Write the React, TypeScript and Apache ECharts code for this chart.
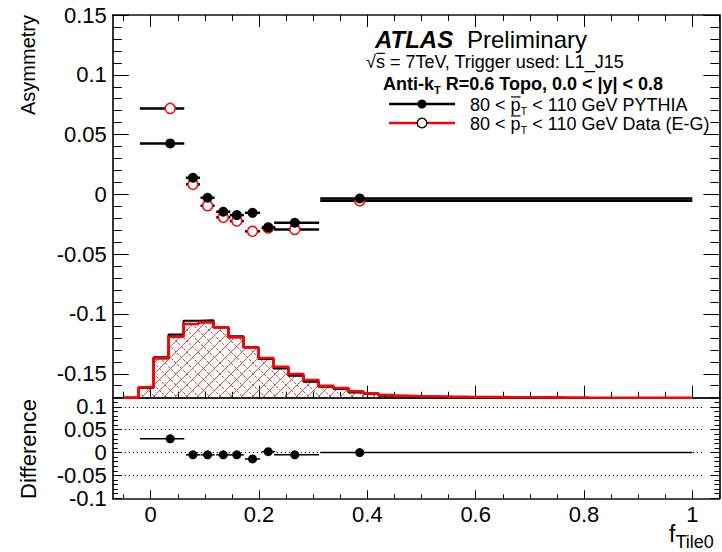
import React, { useEffect, useRef } from "react";
import * as echarts from "echarts";

const FONT = "'Liberation Sans', Arial, Helvetica, sans-serif";

// ---------- data ----------
const pointX = [0.036, 0.078, 0.105, 0.134, 0.159, 0.188, 0.217, 0.266, 0.386];
const binLow = [-0.02, 0.065, 0.092, 0.121, 0.146, 0.174, 0.205, 0.228, 0.313];
const binHigh = [0.062, 0.091, 0.118, 0.147, 0.172, 0.202, 0.23, 0.311, 1.0];
const pythiaY = [0.0426, 0.0139, -0.0028, -0.0145, -0.0173, -0.0154, -0.0276, -0.0237, -0.0034];
const pythiaErrY = [0.0025, 0.0025, 0.002, 0.002, 0.002, 0.002, 0.002, 0.002, 0.002];
const dataY = [0.0719, 0.0084, -0.0095, -0.0192, -0.0223, -0.0309, -0.0282, -0.0293, -0.0054];
const diffY = [0.03, -0.005, -0.005, -0.005, -0.005, -0.014, 0.002, -0.005, 0.0];

const histStart = -0.0225;
const histWidth = 0.0277;
const histDataVals = [0.0172, 0.0655, 0.1017, 0.1228, 0.1255, 0.1172, 0.1005, 0.0838, 0.0663, 0.0517, 0.0395, 0.0295, 0.02, 0.0162, 0.0105, 0.0072, 0.0045, 0.0033, 0.0025, 0.002, 0.0017, 0.0013, 0.0012, 0.001, 0.0008, 0.0007, 0.0006, 0.0005, 0.0004, 0.0003];
const histPythiaVals = [0.0162, 0.0672, 0.105, 0.1283, 0.1288, 0.1172, 0.1022, 0.0838, 0.0645, 0.0488, 0.0367, 0.0267, 0.0183, 0.0145, 0.0088, 0.0062, 0.0033, 0.0025, 0.002, 0.0017, 0.0013, 0.001, 0.0008, 0.0007];

const xTicks = [0, 0.2, 0.4, 0.6, 0.8, 1.0];
const xTickLabels = ["0", "0.2", "0.4", "0.6", "0.8", "1"];
const topYTicks = [-0.15, -0.1, -0.05, 0, 0.05, 0.1, 0.15];
const topYTickLabels = ["-0.15", "-0.1", "-0.05", "0", "0.05", "0.1", "0.15"];
const botYTicks = [-0.1, -0.05, 0, 0.05, 0.1];
const botYTickLabels = ["-0.1", "-0.05", "0", "0.05", "0.1"];
const refLines = [0.1, 0.05, 0, -0.05];

// ---------- layout ----------
const X_MIN = -0.07, X_MAX = 1.05;
const TOP_MIN = -0.17, TOP_MAX = 0.15;
const BOT_MIN = -0.1, BOT_MAX = 0.12;
const HIST_MAX = 0.638;
const GL = 112.8, GW = 606.6;
const G0T = 15, G0H = 382.7;
const G1T = 397.7, G1H = 100.6;
const HATCH = 11;

function range(a: number, b: number, s: number) {
  const out: number[] = [];
  for (let v = a; v <= b + 1e-9; v += s) out.push(Math.round(v * 1e4) / 1e4);
  return out;
}
const xMinor = range(-0.05, 1.05, 0.05);
const topYMinor = range(-0.17, 0.15, 0.01);
const botYMinor = range(-0.1, 0.12, 0.01);

function labelFor(ticks: number[], labels: string[]) {
  return (v: number) => {
    const i = ticks.findIndex((t) => Math.abs(t - v) < 1e-9);
    return i >= 0 ? labels[i] : "";
  };
}

function axis(gridIndex: number, position: string, min: number, max: number, values: number[], len: number, showLine: boolean, labels?: { ticks: number[]; texts: string[]; margin: number }) {
  return {
    type: "value",
    gridIndex,
    position,
    min,
    max,
    axisLine: { show: showLine, onZero: false, lineStyle: { color: "#111", width: 1.7 } },
    axisTick: { show: len > 0, inside: true, length: len, customValues: values, lineStyle: { color: "#000", width: 1 } },
    axisLabel: labels
      ? { show: true, customValues: labels.ticks, formatter: labelFor(labels.ticks, labels.texts), margin: labels.margin, fontSize: 22, color: "#000", fontFamily: FONT }
      : { show: false },
    splitLine: { show: false },
    minorTick: { show: false },
  };
}

function histLine(vals: number[], endX: number) {
  const pts: number[][] = [[-0.05, 0]];
  vals.forEach((v, i) => pts.push([histStart + i * histWidth, v]));
  pts.push([histStart + vals.length * histWidth, 0]);
  pts.push([endX, 0]);
  return pts;
}

// hatching of each histogram bin, clipped to the bin's rectangle in pixel space
function hatchSeries(vals: number[], dir: number, color: string, lw: number, dash: number[] | null, z: number) {
  return {
    type: "custom",
    xAxisIndex: 0,
    yAxisIndex: 4,
    z,
    silent: true,
    encode: { x: [0, 1], y: 2 },
    data: vals.map((v, i) => [histStart + i * histWidth, histStart + (i + 1) * histWidth, v]),
    renderItem: (_p: any, api: any) => {
      const p0 = api.coord([api.value(0), 0]);
      const p1 = api.coord([api.value(1), api.value(2)]);
      const L = p0[0], R = p1[0], B = p0[1], T = p1[1];
      const children: any[] = [];
      const style: any = { stroke: color, lineWidth: lw, fill: null };
      if (dash) style.lineDash = dash;
      if (dir > 0) {
        // lines x + y = c
        for (let k = Math.ceil((L + T) / HATCH); k * HATCH <= R + B; k++) {
          const c = k * HATCH;
          const xa = Math.max(L, c - B), xb = Math.min(R, c - T);
          if (xb > xa) children.push({ type: "line", shape: { x1: xa, y1: c - xa, x2: xb, y2: c - xb }, style });
        }
      } else {
        // lines x - y = c
        for (let k = Math.ceil((L - B) / HATCH); k * HATCH <= R - T; k++) {
          const c = k * HATCH;
          const xa = Math.max(L, c + T), xb = Math.min(R, c + B);
          if (xb > xa) children.push({ type: "line", shape: { x1: xa, y1: xa - c, x2: xb, y2: xb - c }, style });
        }
      }
      return { type: "group", children };
    },
  };
}

function errSeries(xi: number, yi: number, ys: number[], ey: number[] | null, lw: number, z: number) {
  return {
    type: "custom",
    xAxisIndex: xi,
    yAxisIndex: yi,
    z,
    silent: true,
    encode: { x: 0, y: 1 },
    data: pointX.map((x, i) => [x, ys[i], binLow[i], binHigh[i], ey ? ey[i] : 0]),
    renderItem: (_p: any, api: any) => {
      const x = api.value(0), y = api.value(1), lo = api.value(2), hi = api.value(3), e = api.value(4);
      const a = api.coord([lo, y]);
      const b = api.coord([hi, y]);
      const children: any[] = [
        { type: "line", shape: { x1: a[0], y1: a[1], x2: b[0], y2: b[1] }, style: { stroke: "#000", lineWidth: lw } },
      ];
      if (e > 0) {
        const t = api.coord([x, y + e]);
        const bt = api.coord([x, y - e]);
        children.push({ type: "line", shape: { x1: t[0], y1: t[1], x2: bt[0], y2: bt[1] }, style: { stroke: "#000", lineWidth: 1.5 } });
      }
      return { type: "group", children };
    },
  };
}

let mctx: CanvasRenderingContext2D | null = null;
function tw(t: string, size: number, bold?: boolean, italic?: boolean) {
  if (!mctx) mctx = document.createElement("canvas").getContext("2d");
  mctx!.font = `${italic ? "italic " : ""}${bold ? "bold " : ""}${size}px ${FONT}`;
  return mctx!.measureText(t).width;
}
type Seg = { t: string; size: number; bold?: boolean; italic?: boolean; dy?: number; over?: number };
function textRun(x0: number, y: number, segs: Seg[], color = "#000") {
  const els: any[] = [];
  let x = x0;
  for (const s of segs) {
    const w = tw(s.t, s.size, s.bold, s.italic);
    els.push({
      type: "text",
      x,
      y: y + (s.dy || 0),
      style: { text: s.t, fontSize: s.size, fontWeight: s.bold ? "bold" : "normal", fontStyle: s.italic ? "italic" : "normal", fontFamily: FONT, fill: color, align: "left", verticalAlign: "middle" },
    });
    if (s.over) {
      els.push({ type: "line", shape: { x1: x + 0.5, y1: y - s.size * s.over, x2: x + w, y2: y - s.size * s.over }, style: { stroke: color, lineWidth: 1.2 } });
    }
    x += w;
  }
  return els;
}

function buildOption() {
  const xAxis = [
    axis(0, "bottom", X_MIN, X_MAX, xTicks, 12, true),
    axis(0, "bottom", X_MIN, X_MAX, xMinor, 6, false),
    axis(0, "top", X_MIN, X_MAX, xTicks, 12, true),
    axis(0, "top", X_MIN, X_MAX, xMinor, 6, false),
    axis(1, "bottom", X_MIN, X_MAX, xTicks, 8, true, { ticks: xTicks, texts: xTickLabels, margin: 5 }),
    axis(1, "bottom", X_MIN, X_MAX, xMinor, 4, false),
    axis(1, "top", X_MIN, X_MAX, [], 0, true),
  ];
  const yAxis: any[] = [
    axis(0, "left", TOP_MIN, TOP_MAX, topYTicks, 16, true, { ticks: topYTicks, texts: topYTickLabels, margin: 6 }),
    axis(0, "left", TOP_MIN, TOP_MAX, topYMinor, 9, false),
    axis(0, "right", TOP_MIN, TOP_MAX, topYTicks, 16, true),
    axis(0, "right", TOP_MIN, TOP_MAX, topYMinor, 9, false),
    { type: "value", gridIndex: 0, min: 0, max: HIST_MAX, show: false },
    axis(1, "left", BOT_MIN, BOT_MAX, botYTicks, 9, true, { ticks: botYTicks, texts: botYTickLabels, margin: 6 }),
    axis(1, "left", BOT_MIN, BOT_MAX, botYMinor, 5, false),
    axis(1, "right", BOT_MIN, BOT_MAX, botYTicks, 9, true),
    axis(1, "right", BOT_MIN, BOT_MAX, botYMinor, 5, false),
  ];

  const series: any[] = [
    hatchSeries(histPythiaVals, -1, "#3a3a3a", 0.8, [2.5, 1.5], 1),
    hatchSeries(histDataVals, 1, "#ff2a2a", 0.9, null, 1),
    {
      type: "line", name: "PYTHIA hist", xAxisIndex: 0, yAxisIndex: 4, step: "end", showSymbol: false, symbol: "none", z: 2,
      data: histLine(histPythiaVals, 0.645),
      lineStyle: { color: "#000", width: 2.2 },
      silent: true,
    },
    {
      type: "line", name: "Data hist", xAxisIndex: 0, yAxisIndex: 4, step: "end", showSymbol: false, symbol: "none", z: 2,
      data: histLine(histDataVals, 1.0),
      lineStyle: { color: "#ff0000", width: 2.6 },
      silent: true,
    },
    errSeries(0, 0, dataY, null, 2.5, 3),
    {
      type: "scatter", xAxisIndex: 0, yAxisIndex: 0, z: 4, symbol: "circle", symbolSize: 10,
      data: pointX.map((x, i) => [x, dataY[i]]),
      itemStyle: { color: "#fff", borderColor: "#ff0000", borderWidth: 1.5, opacity: 1 },
      silent: true,
    },
    errSeries(0, 0, pythiaY, pythiaErrY, 2.5, 5),
    {
      type: "scatter", xAxisIndex: 0, yAxisIndex: 0, z: 6, symbol: "circle", symbolSize: 10,
      data: pointX.map((x, i) => [x, pythiaY[i]]),
      itemStyle: { color: "#000", opacity: 1 },
      silent: true,
    },
    errSeries(4, 5, diffY, null, 1.5, 3),
    {
      type: "scatter", xAxisIndex: 4, yAxisIndex: 5, z: 4, symbol: "circle", symbolSize: 9,
      data: pointX.map((x, i) => [x, diffY[i]]),
      itemStyle: { color: "#000", opacity: 1 },
      silent: true,
      markLine: {
        silent: true,
        symbol: ["none", "none"],
        label: { show: false },
        lineStyle: { color: "#000", width: 1, type: [1.2, 2.8] },
        data: refLines.map((v) => [{ coord: [-0.07, v] }, { coord: [1.02, v] }]),
        z: 1,
      },
    },
  ];

  const graphic: any[] = [
    ...textRun(375, 39, [{ t: "ATLAS", size: 24, bold: true, italic: true }]),
    ...textRun(467, 39, [{ t: "Preliminary", size: 24 }]),
    ...textRun(366, 62, [{ t: "√", size: 18 }, { t: "s", size: 18, over: 0.48 }, { t: " = 7TeV, Trigger used: L1_J15", size: 18 }]),
    ...textRun(383, 84, [{ t: "Anti-k", size: 18, bold: true }, { t: "T", size: 11, bold: true, dy: 6 }, { t: " R=0.6 Topo, 0.0 < |y| < 0.8", size: 18, bold: true }]),
    ...textRun(470, 104.5, [{ t: "80 < ", size: 18 }, { t: "p", size: 18, over: 0.42 }, { t: "T", size: 11, dy: 6 }, { t: " < 110 GeV PYTHIA", size: 18 }]),
    ...textRun(470, 123.5, [{ t: "80 < ", size: 18 }, { t: "p", size: 18, over: 0.42 }, { t: "T", size: 11, dy: 6 }, { t: " < 110 GeV Data (E-G)", size: 18 }]),
    { type: "line", shape: { x1: 389, y1: 104, x2: 455, y2: 104 }, style: { stroke: "#000", lineWidth: 2.5 } },
    { type: "circle", shape: { cx: 422, cy: 104, r: 4.5 }, style: { fill: "#000" } },
    { type: "line", shape: { x1: 389, y1: 123, x2: 455, y2: 123 }, style: { stroke: "#ff0000", lineWidth: 2.5 } },
    { type: "circle", shape: { cx: 422, cy: 123, r: 4.8 }, style: { fill: "#fff", stroke: "#000", lineWidth: 1.3 } },
    {
      type: "text", x: 28, y: 15, rotation: Math.PI / 2,
      style: { text: "Asymmetry", fontSize: 20, fontFamily: FONT, fill: "#000", align: "right", verticalAlign: "middle" },
    },
    {
      type: "text", x: 28, y: 449, rotation: Math.PI / 2,
      style: { text: "Difference", fontSize: 22, fontFamily: FONT, fill: "#000", align: "center", verticalAlign: "middle" },
    },
    ...textRun(669, 534, [{ t: "f", size: 23 }, { t: "Tile0", size: 18, dy: 8 }]),
  ];

  return {
    animation: false,
    backgroundColor: "#fff",
    grid: [
      { left: GL, top: G0T, width: GW, height: G0H, containLabel: false },
      { left: GL, top: G1T, width: GW, height: G1H, containLabel: false },
    ],
    xAxis,
    yAxis,
    series,
    graphic,
  };
}

export default function App() {
  const ref = useRef<HTMLDivElement>(null);
  useEffect(() => {
    document.body.style.margin = "0";
    const chart = echarts.init(ref.current!, null, { renderer: "svg" });
    chart.setOption(buildOption() as any);
    return () => chart.dispose();
  }, []);
  return <div ref={ref} style={{ position: "absolute", left: 0, top: 0, width: 722, height: 552, background: "#fff" }} />;
}
